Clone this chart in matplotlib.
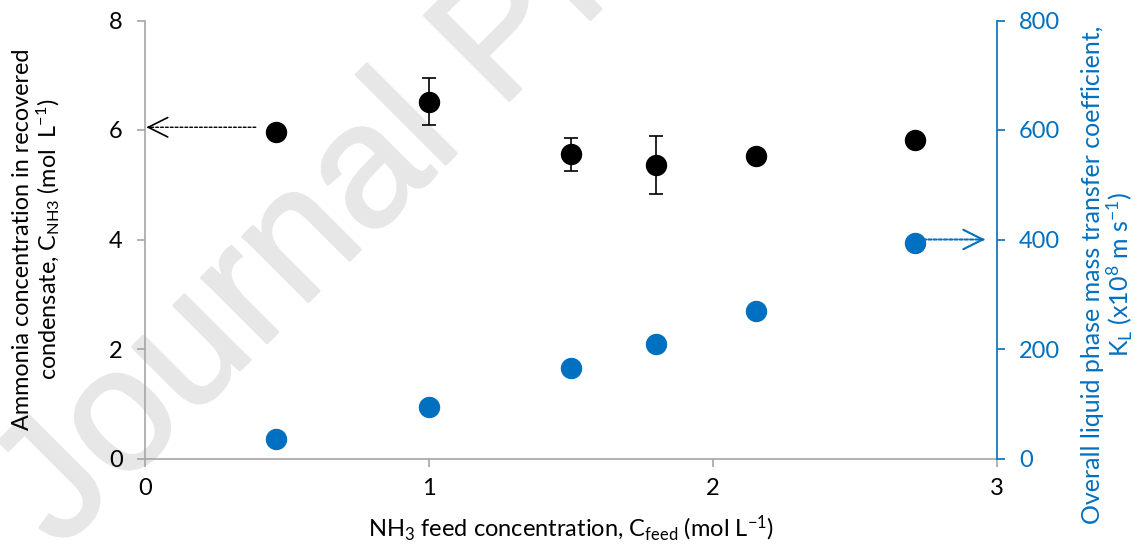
import matplotlib
matplotlib.use("Agg")
import matplotlib.pyplot as plt
import matplotlib.patheffects as pe

# Feed concentration (mol/L)
feed_conc = [0.46, 1.0, 1.5, 1.8, 2.15, 2.71]
# Ammonia in recovered condensate (mol/L) with standard deviations
c_nh3 = [5.97, 6.52, 5.56, 5.36, 5.53, 5.82]
c_nh3_err = [0.0, 0.43, 0.30, 0.53, 0.0, 0.0]
# Overall liquid-phase mass transfer coefficient (x10^8 m/s)
k_l = [35.6, 94, 165, 208.6, 269.4, 394]

x_ticks = [0, 1, 2, 3]
y_left_ticks = [0, 2, 4, 6, 8]
y_right_ticks = [0, 200, 400, 600, 800]

BLUE = "#0070C0"
GREY = "#A6A6A6"
WM = "#e7e7e7"

plt.rcParams["font.family"] = ["Lato", "DejaVu Sans"]
plt.rcParams["mathtext.fontset"] = "custom"
plt.rcParams["mathtext.rm"] = "Lato"
plt.rcParams["mathtext.it"] = "Lato:italic"
plt.rcParams["mathtext.bf"] = "Lato:bold"

W, H = 1135, 553
fig = plt.figure(figsize=(W / 100, H / 100), dpi=100)
fig.patch.set_facecolor("white")

# faint diagonal watermark behind the plot
fig.text(59 / W, 2 / H, "Journal Pre-proof", rotation=45, rotation_mode="anchor",
         ha="left", va="baseline", fontsize=126, color=WM,
         family="Liberation Sans", zorder=-5,
         path_effects=[pe.withStroke(linewidth=2, foreground=WM)])

ax = fig.add_axes([145 / W, (H - 458.5) / H, (997 - 145) / W, (458.5 - 20.5) / H])
ax.set_facecolor("none")
ax2 = ax.twinx()
ax2.set_facecolor("none")

# left axis: ammonia concentration
ax.errorbar(feed_conc, c_nh3, yerr=c_nh3_err, fmt="o", color="black",
            markersize=14.4, ecolor="black", elinewidth=1.2, capsize=5,
            capthick=1.2, zorder=5)
# right axis: mass transfer coefficient
ax2.plot(feed_conc, k_l, "o", color=BLUE, markersize=14.4, zorder=5)

ax.set_xlim(0, 3)
ax.set_ylim(0, 8)
ax2.set_ylim(0, 800)
ax.set_xticks(x_ticks)
ax.set_yticks(y_left_ticks)
ax2.set_yticks(y_right_ticks)

for s in ["top", "right"]:
    ax.spines[s].set_visible(False)
for s in ["top", "left", "bottom"]:
    ax2.spines[s].set_visible(False)
ax.spines["left"].set_color(GREY)
ax.spines["bottom"].set_color(GREY)
ax2.spines["right"].set_color(BLUE)
for sp in [ax.spines["left"], ax.spines["bottom"], ax2.spines["right"]]:
    sp.set_linewidth(1.2)

ax.tick_params(axis="both", direction="out", length=6, width=1.2, color=GREY,
               labelsize=17, labelcolor="black", pad=8)
ax.tick_params(axis="y", pad=10)
ax2.tick_params(axis="y", direction="out", length=6, width=1.2, color=BLUE,
                labelsize=17, labelcolor=BLUE, pad=10)

# indicator arrows pointing to each series' axis
ax.annotate("", xy=(0.01, 6.05), xytext=(0.39, 6.05),
            arrowprops=dict(arrowstyle="-", color="black", lw=1.0, ls=(0, (2, 1.5)),
                            shrinkA=0, shrinkB=0))
ax.annotate("", xy=(0.005, 6.05), xytext=(0.02, 6.05),
            arrowprops=dict(arrowstyle="->,head_length=14,head_width=7", color="black",
                            lw=1.2, mutation_scale=1, shrinkA=0, shrinkB=0))
ax2.annotate("", xy=(2.955, 400), xytext=(2.74, 400),
             arrowprops=dict(arrowstyle="-", color=BLUE, lw=1.5, ls=(0, (1.5, 1)),
                             shrinkA=0, shrinkB=0))
ax2.annotate("", xy=(2.958, 400), xytext=(2.94, 400),
             arrowprops=dict(arrowstyle="->,head_length=14,head_width=7", color=BLUE,
                             lw=1.5, mutation_scale=1, shrinkA=0, shrinkB=0))

ax.set_xlabel(r"NH$_3$ feed concentration, C$_{\mathrm{feed}}$ (mol L$^{-1}$)",
              fontsize=17, labelpad=10)
ax.set_ylabel("Ammonia concentration in recovered\n"
              r"condensate, C$_{\mathrm{NH3}}$ (mol  L$^{-1}$)",
              fontsize=16.8, linespacing=1.05)
ax.yaxis.set_label_coords(-0.0974, 0.5)
ax2.set_ylabel("Overall liquid phase mass transfer coefficient,\n"
               r"K$_{\mathrm{L}}$ (x10$^{8}$ m s$^{-1}$)",
               fontsize=18, color=BLUE, linespacing=1.0, rotation=90)
ax2.yaxis.set_label_coords(1.099, 0.42)

fig.savefig("out.png", dpi=100, facecolor="white")
